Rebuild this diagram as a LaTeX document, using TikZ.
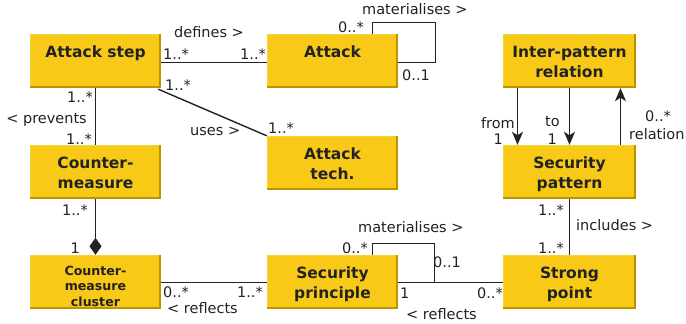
\documentclass[tikz,border=0pt]{standalone}
\usepackage{fontspec}
\setmainfont{DejaVu Sans}
\usetikzlibrary{arrows.meta}
\definecolor{boxfill}{HTML}{F8CA17}
\definecolor{boxshade}{HTML}{B99600}
\definecolor{boxlight}{HTML}{E9DA3A}
\definecolor{ink}{HTML}{222222}
\begin{document}
\begin{tikzpicture}[x=1pt,y=-1pt,
  cls/.style={rectangle, fill=boxfill, inner sep=0, minimum width=131pt, minimum height=54pt},
  clswide/.style={cls, minimum width=133pt},
  clstext/.style={anchor=north, inner sep=0, align=center, text=ink, font=\fontsize{15.5}{20}\selectfont\bfseries},
  lab/.style={inner sep=0, text=ink, font=\fontsize{14.5}{17}\selectfont},
  labl/.style={lab, anchor=base west},
  labr/.style={lab, anchor=base east},
  assoc/.style={draw=ink, line width=1.4pt},
  nav/.style={assoc, -{Stealth[length=13pt,width=11pt,inset=3.5pt]}},
  comp/.style={assoc, -{Diamond[length=17pt,width=12pt]}},
]
\path[use as bounding box, fill=white] (0,0) rectangle (686,324);

% classes
\node[cls] (step) at (95.5,61) {};
\node[cls] (attack) at (332.5,61) {};
\node[clswide] (ipr) at (569.5,61) {};
\node[cls] (cm) at (95.5,172) {};
\node[cls] (tech) at (332.5,163) {};
\node[clswide] (sp) at (569.5,172) {};
\node[cls] (cluster) at (95.5,282) {};
\node[cls] (sprin) at (332.5,282) {};
\node[clswide] (strong) at (569.5,282) {};

% bevelled edges of the class boxes
\foreach \n in {step,attack,ipr,cm,tech,sp,cluster,sprin,strong}{
  \draw[boxlight, line width=1pt] ([shift={(0.5pt,0pt)}]\n.south west) -- ([shift={(0.5pt,-0.5pt)}]\n.north west) -- ([shift={(0pt,-0.5pt)}]\n.north east);
  \draw[boxshade, line width=2pt] ([shift={(0pt,1pt)}]\n.south west) -- ([shift={(-1pt,1pt)}]\n.south east) -- ([shift={(-1pt,0pt)}]\n.north east);
}

% class names
\node[clstext] (step-t) at ([yshift=-11.5pt]step.north) {\rule{0pt}{12pt}Attack step};
\node[clstext] (attack-t) at ([yshift=-11.5pt]attack.north) {\rule{0pt}{12pt}Attack};
\node[clstext] (ipr-t) at ([yshift=-11.5pt]ipr.north) {\rule{0pt}{12pt}Inter-pattern\\relation};
\node[clstext] (cm-t) at ([yshift=-11.5pt]cm.north) {\rule{0pt}{12pt}Counter-\\measure};
\node[clstext] (tech-t) at ([yshift=-11.5pt]tech.north) {\rule{0pt}{12pt}Attack\\tech.};
\node[clstext] (sp-t) at ([yshift=-11.5pt]sp.north) {\rule{0pt}{12pt}Security\\pattern};
\node[clstext, font=\fontsize{12.6}{15.5}\selectfont\bfseries] (cluster-t) at ([yshift=-10pt]cluster.north) {\rule{0pt}{10pt}Counter-\\measure\\cluster};
\node[clstext] (sprin-t) at ([yshift=-11.5pt]sprin.north) {\rule{0pt}{12pt}Security\\principle};
\node[clstext] (strong-t) at ([yshift=-11.5pt]strong.north) {\rule{0pt}{12pt}Strong\\point};

% associations
\draw[assoc] ([yshift=-1.5pt]step.east) -- ([yshift=-1.5pt]attack.west);
\draw[assoc] ([xshift=-3pt,yshift=-1pt]step.south east) -- (tech.north west);
\draw[assoc] (step.south) -- (cm.north);
\draw[comp] (cm.south) -- (cluster.north);
\draw[assoc] ([yshift=-0.5pt]cluster.east) -- ([yshift=-0.5pt]sprin.west);
\draw[assoc] ([yshift=-0.5pt]sprin.east) -- ([yshift=-0.5pt]strong.west);
\draw[assoc] ([xshift=40pt]attack.north) -- ++(0,-11.5) -| ([xshift=37.5pt,yshift=-1.5pt]attack.east) -- ([yshift=-1.5pt]attack.east);
\draw[assoc] ([xshift=40pt]sprin.north) -- ++(0,-11.5) -| ([xshift=36.5pt,yshift=-0.5pt]sprin.east);
\draw[nav] ([xshift=-52pt]ipr.south) -- ([xshift=-52pt]sp.north);
\draw[nav] (ipr.south) -- (sp.north);
\draw[nav] ([xshift=51pt]sp.north) -- ([xshift=51pt]ipr.south);
\draw[assoc] (sp.south) -- (strong.north);

% role names and multiplicities
\node[labl] (l-def) at (174,37) {defines >};
\node[labl] (m-def1) at (163,59) {1..*};
\node[labl] (m-def2) at (240,59) {1..*};
\node[labl] (m-use1) at (165,90) {1..*};
\node[labl] (l-use) at (190,135) {uses >};
\node[labl] (m-use2) at (268,133) {1..*};
\node[labr] (m-prev1) at (93,102) {1..*};
\node[labr] (l-prev) at (87,123) {< prevents};
\node[labr] (m-prev2) at (92,144) {1..*};
\node[labr] (m-comp1) at (88,215) {1..*};
\node[labr] (m-comp2) at (80,253) {1};
\node[labl] (m-ref1) at (163,297) {0..*};
\node[labr] (m-ref2) at (263,297) {1..*};
\node[labl] (l-ref) at (167,313) {< reflects};
\node[labl] (l-mat2) at (358,232) {materialises >};
\node[labr] (m-mat3) at (368,253) {0..*};
\node[labl] (m-mat4) at (433,267) {0..1};
\node[labl] (m-ref3) at (400,298) {1};
\node[labr] (m-ref4) at (503,298) {0..*};
\node[labl] (l-ref2) at (406,319) {< reflects};
\node[labr] (m-inc1) at (564,215) {1..*};
\node[labl] (l-inc) at (576,230) {includes >};
\node[labr] (m-inc2) at (564,253) {1..*};
\node[labl] (l-mat1) at (362,15) {materialises >};
\node[labr] (m-mat1) at (364,32) {0..*};
\node[labl] (m-mat2) at (402,80) {0..1};
\node[labr] (l-from) at (515,128) {from};
\node[labr] (m-from) at (503,144) {1};
\node[labr] (l-to) at (560,126) {to};
\node[labr] (m-to) at (557,144) {1};
\node[labl] (m-rel) at (645,121) {0..*};
\node[labl] (l-rel) at (629,139) {relation};
\end{tikzpicture}
\end{document}
